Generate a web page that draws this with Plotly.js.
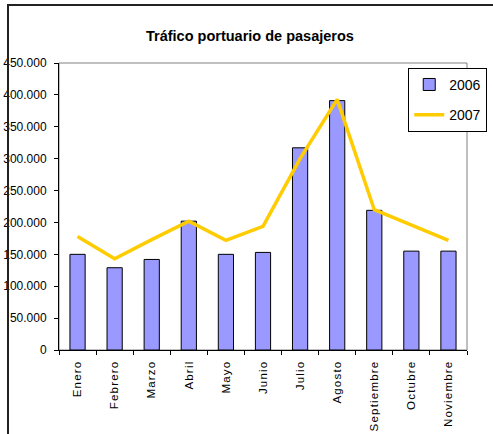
<!DOCTYPE html>
<html>
<head>
<meta charset="utf-8">
<script src="https://cdn.plot.ly/plotly-3.0.1.min.js"></script>
<style>
  html, body { margin: 0; padding: 0; background: #fff; }
  #wrap { position: relative; width: 493px; height: 434px; overflow: hidden; }
  #frame { position: absolute; left: 7px; top: 4px; width: 600px; height: 600px;
           border-top: 2px solid #222; border-left: 2px solid #222; pointer-events: none; }
  #chart { position: absolute; left: 0; top: 0; width: 493px; height: 434px; }
  .xtick text { letter-spacing: 1.2px; }
</style>
</head>
<body>
<div id="wrap">
  <div id="chart"></div>
  <div id="frame"></div>
</div>
<script>
// meses (eje x)
const meses = ['Enero', 'Febrero', 'Marzo', 'Abril', 'Mayo', 'Junio', 'Julio',
               'Agosto', 'Septiembre', 'Octubre', 'Noviembre'];

// pasajeros por mes
const pasajeros2006 = [150000, 129000, 142000, 202000, 150000, 153000, 317000,
                       391000, 219000, 155000, 155000];
const pasajeros2007 = [178000, 143000, 173000, 202000, 172000, 194000, 300000,
                       393000, 220000, 196000, 172000];

const yTicks = [0, 50000, 100000, 150000, 200000, 250000, 300000, 350000, 400000, 450000];

const fuente = "'Liberation Sans', Arial, sans-serif";

const traces = [
  {
    x: meses,
    y: pasajeros2006,
    type: 'bar',
    name: '2006',
    legendgroup: 'a',
    marker: { color: '#9999FF', line: { color: '#000000', width: 1 } },
    hoverinfo: 'x+y'
  },
  {
    x: meses,
    y: pasajeros2007,
    type: 'scatter',
    mode: 'lines',
    name: '2007',
    legendgroup: 'b',
    line: { color: '#FFCC00', width: 3.5 },
    hoverinfo: 'x+y'
  }
];

const layout = {
  width: 493,
  height: 434,
  margin: { l: 59, r: 6, t: 63, b: 84 },
  paper_bgcolor: 'rgba(0,0,0,0)',
  plot_bgcolor: '#FFFFFF',
  separators: ',.',
  font: { family: fuente, color: '#000000', size: 12 },
  title: {
    text: '<b>Tráfico portuario de pasajeros</b>',
    font: { family: fuente, size: 14.5, color: '#000000' },
    x: 0.507,
    xanchor: 'center',
    y: 0.918,
    yanchor: 'middle'
  },
  bargap: 0.59,
  showlegend: true,
  legend: {
    x: 0.856,
    y: 0.983,
    xanchor: 'left',
    yanchor: 'top',
    bgcolor: '#FFFFFF',
    bordercolor: '#000000',
    borderwidth: 1,
    font: { family: fuente, size: 14, color: '#000000' },
    itemwidth: 30,
    tracegroupgap: 9
  },
  xaxis: {
    type: 'category',
    showline: true,
    linecolor: '#000000',
    linewidth: 1,
    ticks: 'outside',
    tickson: 'boundaries',
    ticklen: 4,
    tickcolor: '#000000',
    tickangle: -90,
    ticklabelstandoff: 5,
    tickfont: { family: fuente, size: 11.5, color: '#000000' },
    showgrid: false,
    zeroline: false
  },
  yaxis: {
    range: [0, 450000],
    tickvals: yTicks,
    tickformat: ',d',
    showline: true,
    linecolor: '#000000',
    linewidth: 1,
    ticks: 'outside',
    ticklen: 4,
    tickcolor: '#000000',
    ticklabelstandoff: 5,
    tickfont: { family: fuente, size: 12, color: '#000000' },
    showgrid: false,
    zeroline: false
  },
  shapes: [{
    type: 'rect',
    xref: 'paper', yref: 'paper',
    x0: 0, x1: 1, y0: 0, y1: 1,
    line: { color: '#808080', width: 1 },
    layer: 'below'
  }]
};

Plotly.newPlot('chart', traces, layout, { displayModeBar: false, staticPlot: true });
</script>
</body>
</html>
